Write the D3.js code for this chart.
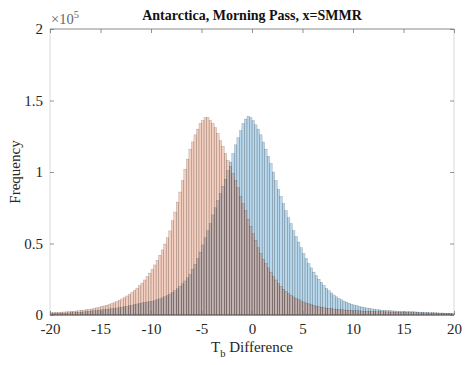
<!DOCTYPE html>
<html>
<head>
<meta charset="utf-8">
<script src="https://cdn.jsdelivr.net/npm/d3@7"></script>
<style>
  body{margin:0;background:#fff;}
  text{font-family:"Liberation Serif","Times New Roman",serif;}
</style>
</head>
<body>
<svg id="canvas" width="465" height="365"></svg>
<script>
// bins of width 0.25 from -20 to 20, counts in thousands
let binStart=-20, binWidth=0.25;

let blueCounts=[
 1.0,1.1,1.1,1.2, 1.3,1.3,1.4,1.5, 1.6,1.7,1.8,1.9, 2.0,2.2,2.4,2.6,
 2.8,3.0,3.2,3.4, 3.6,3.8,4.0,4.2, 4.4,4.6,4.9,5.2, 5.5,5.8,6.1,6.5,
 6.9,7.3,7.7,8.1, 8.5,8.8,9.1,9.4, 9.6,10.1,10.7,11.3, 12.0,12.8,13.7,14.7,
 15.8,17.0,18.4,20.0, 21.8,23.8,26.0,28.5, 32,35.5,39.5,44, 49,54,59,64,
 70,75,80,85, 90,95,101,107, 113,119,124,129, 134,137,139,138,
 136,133,130,126, 121,116,111,106, 100,94,88,83, 78,73,68,64,
 59,55,51,47, 43,39.5,36,33, 30,27.5,25,22.8, 20.7,18.8,17,15.4,
 14,12.7,11.6,10.6, 9.7,8.9,8.2,7.6, 7.0,6.5,6.0,5.6, 5.2,4.9,4.6,4.3,
 4.0,3.8,3.6,3.4, 3.2,3.1,3.0,2.9, 2.8,2.7,2.6,2.5, 2.4,2.4,2.3,2.3,
 2.2,2.1,2.0,2.0, 1.9,1.8,1.7,1.7, 1.6,1.5,1.4,1.4, 1.3,1.2,1.2,1.1
];

let orangeCounts=[
 1.7,1.8,1.8,1.9, 2.0,2.1,2.2,2.3, 2.5,2.6,2.8,3.0, 3.2,3.4,3.7,3.9,
 4.2,4.6,5.0,5.4, 5.9,6.3,6.8,7.3, 7.9,8.6,9.4,10.2, 11.2,12.2,13.3,14.5,
 15.8,17.2,18.8,20.5, 22.4,24.5,26.8,29.3, 32.0,35.0,38.2,41.7, 45.5,49.6,54.0,58.8,
 66,72,79,86, 94,102,109,116, 121,126,130,134, 136,138,138,136,
 134,131,127,122, 118,113,108,104, 99,94,89,83, 78,73,67,62,
 57,52,47,43, 39,36,33,30, 27,24.5,22,20, 18,16.5,15,13.7,
 12.6,11.6,10.7,9.9, 9.1,8.4,7.8,7.2, 6.7,6.2,5.8,5.4, 5.1,4.8,4.6,4.4,
 4.2,4.0,3.8,3.7, 3.5,3.4,3.3,3.2, 3.1,3.0,2.9,2.8, 2.7,2.6,2.5,2.5,
 2.4,2.4,2.3,2.3, 2.2,2.2,2.1,2.1, 2.0,2.0,1.9,1.9, 1.8,1.8,1.7,1.7,
 1.6,1.6,1.5,1.5, 1.4,1.4,1.3,1.3, 1.3,1.2,1.2,1.1, 1.1,1.0,1.0,0.9
];

let xTicks=[-20,-15,-10,-5,0,5,10,15,20];
let yTicks=[0,0.5e5,1e5,1.5e5,2e5];
let yTickLabels=["0","0.5","1","1.5","2"];

let svg=d3.select("#canvas");
let pLeft=50, pRight=454, pTop=29, pBottom=315;

let x=d3.scaleLinear().domain([-20,20]).range([pLeft,pRight]);
let y=d3.scaleLinear().domain([0,2e5]).range([pBottom,pTop]);

function drawHist(counts,fill){
    let bins=counts.map((c,i)=>({x0:binStart+i*binWidth,x1:binStart+(i+1)*binWidth,v:c*1000}));
    svg.append('g').selectAll('rect')
        .data(bins)
        .enter()
        .append('rect')
        .attr('x',(b)=>x(b.x0))
        .attr('width',(b)=>x(b.x1)-x(b.x0))
        .attr('y',(b)=>y(b.v))
        .attr('height',(b)=>y(0)-y(b.v))
        .attr('fill',fill)
        .attr('fill-opacity',0.28)
        .attr('stroke','#000')
        .attr('stroke-opacity',0.32)
        .attr('stroke-width',0.4);
}
drawHist(blueCounts,'rgb(0,114,189)');
drawHist(orangeCounts,'rgb(217,83,25)');

// box
svg.append('line').attr('x1',pLeft).attr('x2',pRight).attr('y1',pTop).attr('y2',pTop).attr('stroke','#8a8a8a');
svg.append('line').attr('x1',pLeft).attr('x2',pLeft).attr('y1',pTop).attr('y2',pBottom).attr('stroke','#d8d8d8');
svg.append('line').attr('x1',pRight).attr('x2',pRight).attr('y1',pTop).attr('y2',pBottom).attr('stroke','#d8d8d8');
svg.append('line').attr('x1',pLeft).attr('x2',pRight).attr('y1',pBottom).attr('y2',pBottom).attr('stroke','#555');

// axes with MATLAB-like inward ticks
let xAxis=svg.append('g').attr('transform','translate(0,'+pBottom+')')
    .call(d3.axisBottom(x).tickValues(xTicks).tickSizeInner(-4).tickSizeOuter(0).tickPadding(8)
        .tickFormat((d)=>String(d)));
let xTop=svg.append('g').attr('transform','translate(0,'+pTop+')')
    .call(d3.axisTop(x).tickValues(xTicks).tickSizeInner(-4).tickSizeOuter(0).tickFormat(''));
let yAxis=svg.append('g').attr('transform','translate('+pLeft+',0)')
    .call(d3.axisLeft(y).tickValues(yTicks).tickSizeInner(-4).tickSizeOuter(0).tickPadding(7)
        .tickFormat((d,i)=>yTickLabels[i]));
let yRight=svg.append('g').attr('transform','translate('+pRight+',0)')
    .call(d3.axisRight(y).tickValues(yTicks).tickSizeInner(-4).tickSizeOuter(0).tickFormat(''));

[xAxis,xTop,yAxis,yRight].forEach((a)=>{
    a.select('.domain').remove();
    a.selectAll('line').attr('stroke','#777').attr('stroke-width',0.8);
    a.selectAll('text').attr('font-size',15).attr('fill','#262626')
        .attr('font-family','"Liberation Serif",serif');
});

// exponent
let ex=svg.append('text').attr('x',pLeft+1).attr('y',24).attr('fill','#666').attr('font-size',14.5);
ex.append('tspan').text('\u00d710');
ex.append('tspan').attr('dy',-6).attr('font-size',10.5).text('5');

// title
svg.append('text').attr('x',(pLeft+pRight)/2).attr('y',20).attr('text-anchor','middle')
    .attr('font-size',14).attr('font-weight','bold').attr('fill','#111')
    .text('Antarctica, Morning Pass, x=SMMR');

// x label
let xl=svg.append('text').attr('x',(pLeft+pRight)/2).attr('y',352).attr('text-anchor','middle')
    .attr('font-size',15).attr('fill','#262626');
xl.append('tspan').text('T');
xl.append('tspan').attr('dy',5).attr('font-size',10.5).text('b');
xl.append('tspan').attr('dy',-5).text(' Difference');

// y label
svg.append('text').attr('transform','translate(20,'+((pTop+pBottom)/2)+') rotate(-90)')
    .attr('text-anchor','middle').attr('font-size',15).attr('fill','#262626')
    .text('Frequency');
</script>
</body>
</html>
